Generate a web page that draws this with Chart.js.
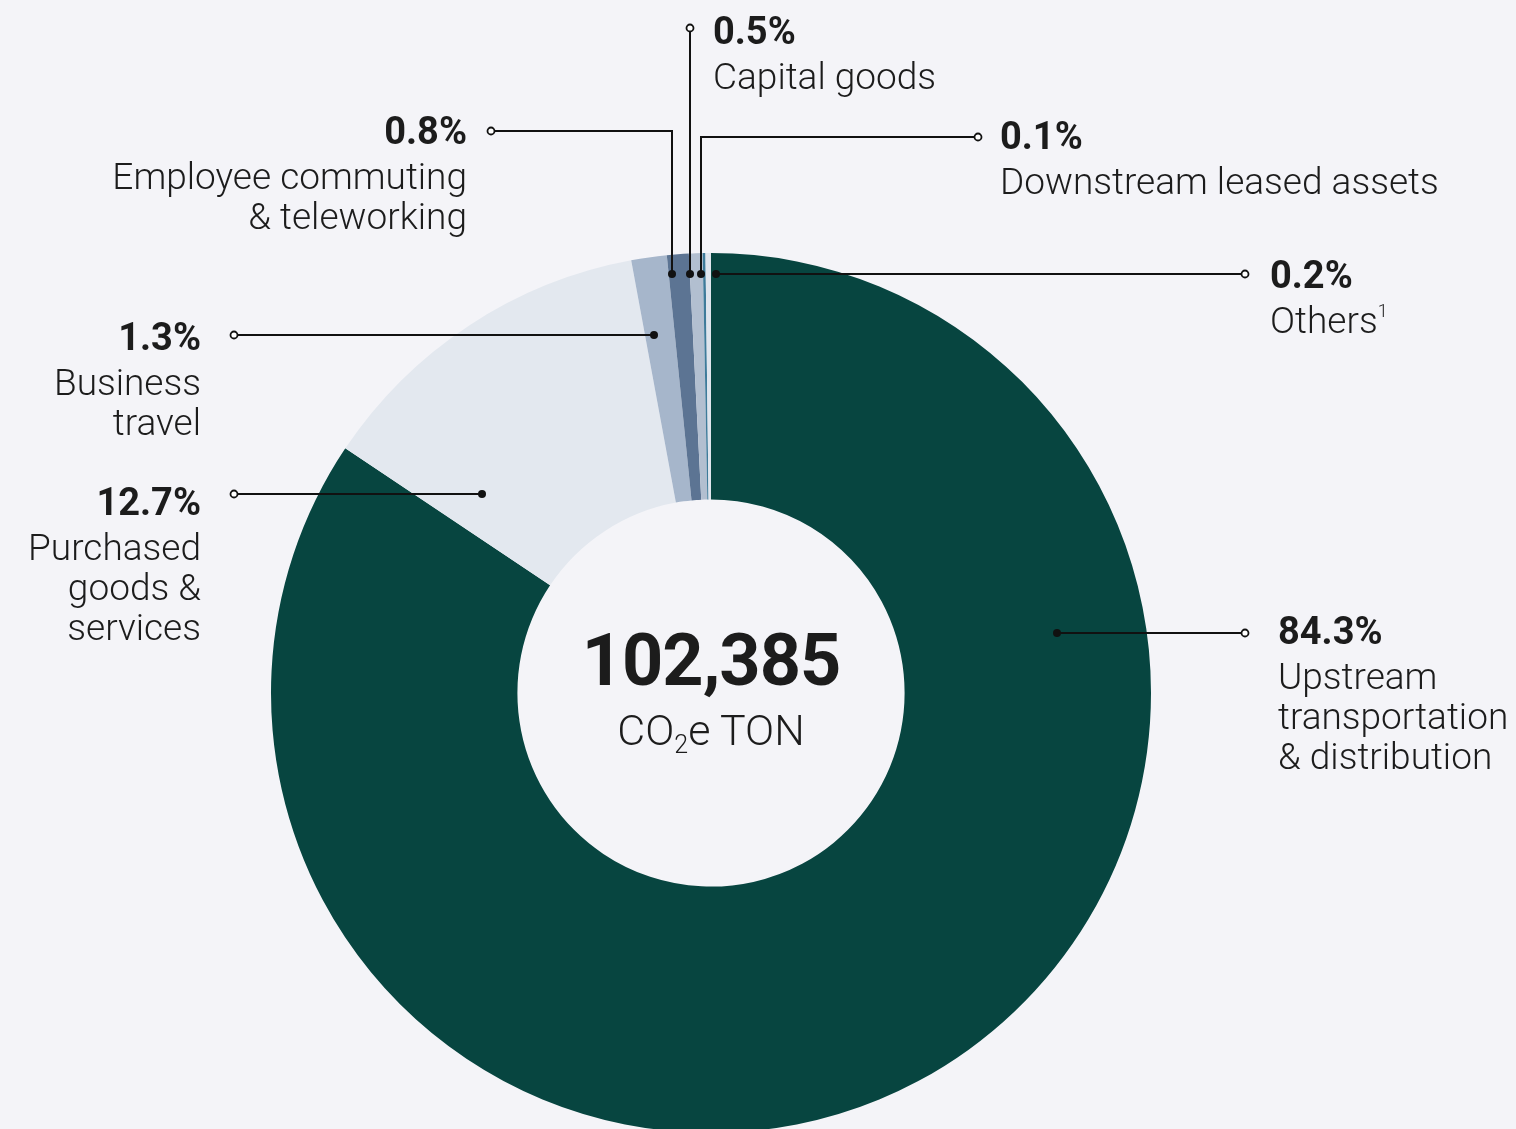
<!DOCTYPE html>
<html>
<head>
<meta charset="utf-8">
<script src="https://cdn.jsdelivr.net/npm/chart.js@4/dist/chart.umd.min.js"></script>
<style>
  html, body { margin: 0; padding: 0; background: #f4f4f8; overflow: hidden; }
  #wrap { position: relative; width: 1516px; height: 1140px; }
  #chart { position: absolute; left: 0; top: 0; }
  .lbl { position: absolute; font-family: Roboto, "Noto Sans", sans-serif; color: #1c1c1c; white-space: nowrap; }
  .lbl .pct { font-weight: 700; font-size: 38px; line-height: 40px; }
  .lbl .name { font-weight: 300; font-size: 37px; line-height: 40px; margin-top: 6px; }
  .lbl sup { font-size: 18px; vertical-align: 16px; line-height: 0; }
  #center { position: absolute; font-family: Roboto, "Noto Sans", sans-serif; color: #1c1c1c; text-align: center; width: 400px; }
  #center .total { font-weight: 700; font-size: 72px; line-height: 80px; letter-spacing: -1px; }
  #center .unit { font-weight: 300; font-size: 43px; line-height: 50px; margin-top: 4px; }
  #center sub { font-size: 25px; vertical-align: -8px; line-height: 0; }
</style>
</head>
<body>
<div id="wrap">
  <canvas id="chart" width="1516" height="1140"></canvas>
</div>
<script>
  // Scope 3 emissions by category (share of total, %)
  const categories = ['Upstream transportation & distribution', 'Purchased goods & services', 'Business travel',
                      'Employee commuting & teleworking', 'Capital goods', 'Downstream leased assets', 'Others'];
  const shares = [84.3, 12.7, 1.3, 0.8, 0.5, 0.1, 0.2];
  const labelLines = [
    ['Upstream', 'transportation', '& distribution'],
    ['Purchased', 'goods &', 'services'],
    ['Business', 'travel'],
    ['Employee commuting', '& teleworking'],
    ['Capital goods'],
    ['Downstream leased assets'],
    ['Others<sup>1</sup>']
  ];
  const totalText = '102,385';
  const unitText = 'CO<sub>2</sub>e TON';

  const colors = ['#074540', '#e3e8ef', '#a6b6cb', '#5c7493', '#b2bfd0', '#3e7b9a', '#dfe5ed'];

  // label placement: x, baseline of the percentage, alignment
  const labelPos = [
    { x: 1278, base: 644, align: 'left' },
    { x: 201, base: 515, align: 'right' },
    { x: 201, base: 350, align: 'right' },
    { x: 467, base: 144, align: 'right' },
    { x: 713, base: 44, align: 'left' },
    { x: 1000, base: 149, align: 'left' },
    { x: 1270, base: 288, align: 'left' }
  ];

  // leader lines, relative to the doughnut centre: dot, optional elbow, open end
  const leaders = [
    { dot: [346, -60], end: [534, -60] },
    { dot: [-229, -199], end: [-477, -199] },
    { dot: [-57, -358], end: [-477, -358] },
    { dot: [-39, -419], elbow: [-39, -562], end: [-220, -562] },
    { dot: [-21, -419], end: [-21, -665] },
    { dot: [-10, -419], elbow: [-10, -556], end: [267, -556] },
    { dot: [5, -419], end: [534, -419] }
  ];

  const leaderPlugin = {
    id: 'leaders',
    afterDraw(chart) {
      const arc = chart.getDatasetMeta(0).data[0];
      const cx = arc.x, cy = arc.y;
      const c = chart.ctx;
      c.save();
      c.strokeStyle = '#111';
      c.fillStyle = '#111';
      c.lineWidth = 2;
      leaders.forEach(l => {
        c.beginPath();
        c.moveTo(cx + l.dot[0], cy + l.dot[1]);
        if (l.elbow) c.lineTo(cx + l.elbow[0], cy + l.elbow[1]);
        c.lineTo(cx + l.end[0], cy + l.end[1]);
        c.stroke();
        c.beginPath();
        c.arc(cx + l.dot[0], cy + l.dot[1], 4, 0, Math.PI * 2);
        c.fill();
        c.beginPath();
        c.arc(cx + l.end[0], cy + l.end[1], 3.5, 0, Math.PI * 2);
        c.fillStyle = '#fff';
        c.fill();
        c.lineWidth = 1.8;
        c.stroke();
        c.fillStyle = '#111';
        c.lineWidth = 2;
      });
      c.restore();
    }
  };

  const chart = new Chart(document.getElementById('chart'), {
    type: 'doughnut',
    data: {
      labels: categories,
      datasets: [{
        data: shares,
        backgroundColor: colors,
        borderWidth: 0
      }]
    },
    options: {
      responsive: false,
      animation: false,
      cutout: '44%',
      layout: { padding: { left: 271, right: 365, top: 253, bottom: 7 } },
      plugins: {
        legend: { display: false },
        tooltip: { enabled: false }
      }
    },
    plugins: [leaderPlugin]
  });

  // text labels as real text
  const wrap = document.getElementById('wrap');
  shares.forEach((v, i) => {
    const p = labelPos[i];
    const d = document.createElement('div');
    d.className = 'lbl';
    d.style.textAlign = p.align;
    d.style.top = (p.base - 33) + 'px';
    if (p.align === 'left') d.style.left = p.x + 'px';
    else d.style.right = (1516 - p.x) + 'px';
    d.innerHTML = '<div class="pct">' + v.toFixed(1) + '%</div><div class="name">' + labelLines[i].join('<br>') + '</div>';
    wrap.appendChild(d);
  });

  const arc0 = chart.getDatasetMeta(0).data[0];
  const ctr = document.createElement('div');
  ctr.id = 'center';
  ctr.style.left = (arc0.x - 200) + 'px';
  ctr.style.top = (arc0.y - 72) + 'px';
  ctr.innerHTML = '<div class="total">' + totalText + '</div><div class="unit">' + unitText + '</div>';
  wrap.appendChild(ctr);
</script>
</body>
</html>
